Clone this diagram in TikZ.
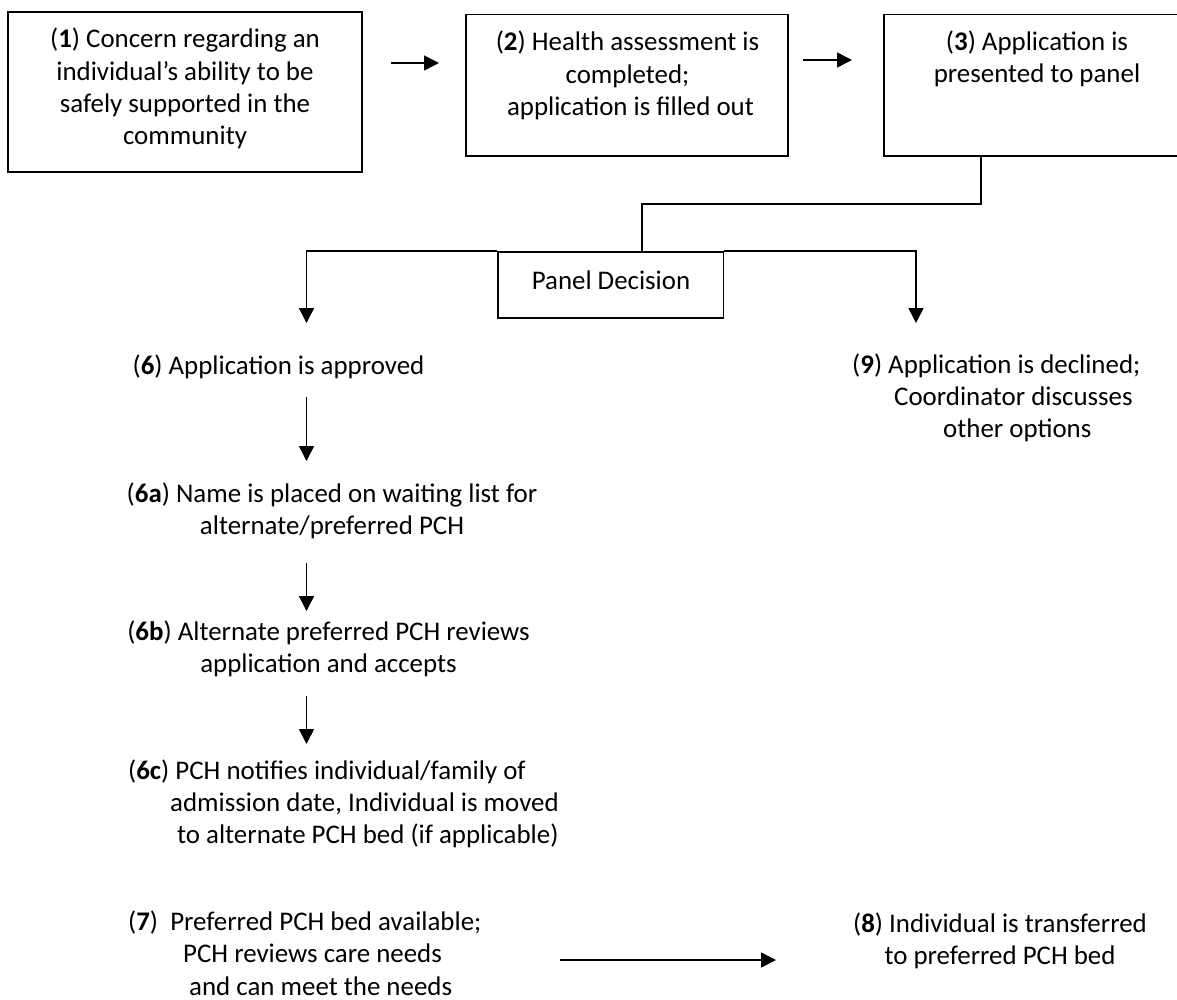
\documentclass[tikz,border=0pt]{standalone}
\usepackage{fontspec}
\setmainfont{Carlito}
\usetikzlibrary{arrows.meta}
\begin{document}
\begin{tikzpicture}[x=1pt,y=-1pt,
  boxshape/.style={draw, line width=1.6pt, inner sep=0pt, rectangle},
  txt/.style={inner sep=0pt, align=center, font=\fontsize{26.9}{32.3}\selectfont},
  txtl/.style={inner sep=0pt, align=left, font=\fontsize{26.9}{32.3}\selectfont},
  conn/.style={line width=1.6pt},
  arr/.style={line width=1.6pt, -{Triangle[length=15pt,width=15pt]}}]
\useasboundingbox (0,0) rectangle (1177,999);
\clip (0,0) rectangle (1177,999);
% boxes
\node[boxshape, minimum width=354pt, minimum height=160pt] (b1) at (185,92) {};
\node[boxshape, minimum width=322pt, minimum height=141.5pt] (b2) at (627,85.25) {};
\node[boxshape, minimum width=306pt, minimum height=141.5pt] (b3) at (1037,85.25) {};
\node[boxshape, minimum width=225.5pt, minimum height=66pt] (pd) at (610.75,285) {};
% box texts
\node[txt] (t1) at (185,88.5) {(\textbf{1}) Concern regarding an\\individual’s ability to be\\safely supported in the\\community};
\node[txt] (t2) at (627.5,75.5) {(\textbf{2}) Health assessment is\\completed;\\\hspace*{6pt}application is filled out};
\node[txt] (t3) at (1037,59) {(\textbf{3}) Application is\\presented to panel};
\node[txt] (tp) at (611,280) {Panel Decision};
% free texts
\node[txt] (t6) at (278.5,367) {(\textbf{6}) Application is approved};
\node[txt] (t6a) at (332,511) {(\textbf{6a}) Name is placed on waiting list for\\alternate/preferred PCH};
\node[txt] (t6b) at (328.5,649) {(\textbf{6b}) Alternate preferred PCH reviews\\application and accepts};
\node[txtl, anchor=west] (t6c) at (128,804) {(\textbf{6c}) PCH notifies individual/family of\\\hspace*{42pt}admission date, Individual is moved\\\hspace*{49pt}to alternate PCH bed (if applicable)};
\node[txtl, anchor=west] (t7) at (128,953) {(\textbf{7})\ \ Preferred PCH bed available;\\\hspace*{55pt}PCH reviews care needs\\\hspace*{61pt}and can meet the needs};
\node[txt] (t8) at (1000,941) {(\textbf{8}) Individual is transferred\\to preferred PCH bed};
\node[txtl, anchor=west] (t9) at (852,398) {(\textbf{9}) Application is declined;\\\hspace*{42pt}Coordinator discusses\\\hspace*{91pt}other options};
% coordinates for free connector ends
\coordinate (a1s) at (391,63);
\coordinate (a1e) at (439,63);
\coordinate (a2s) at (803,60);
\coordinate (a2e) at (852,60);
\coordinate (c3) at (981,156);
\coordinate (mid) at (642,204);
\coordinate (tipL) at (306.5,323);
\coordinate (tipR) at (916,323);
\coordinate (d1s) at (306.5,397);
\coordinate (d1e) at (306.5,461);
\coordinate (d2s) at (306.5,563);
\coordinate (d2e) at (306.5,611);
\coordinate (d3s) at (306.5,696);
\coordinate (d3e) at (306.5,744);
\coordinate (h7s) at (559.5,960);
\coordinate (h7e) at (776,960);
% connectors
\draw[arr] (a1s) -- (a1e);
\draw[arr] (a2s) -- (a2e);
\draw[conn] (c3) -- (c3 |- mid) -- (mid) -- (mid |- pd.north);
\draw[arr] (pd.north west) -| (tipL);
\draw[arr] (pd.north east) -| (tipR);
\draw[arr] (d1s) -- (d1e);
\draw[arr] (d2s) -- (d2e);
\draw[arr] (d3s) -- (d3e);
\draw[arr] (h7s) -- (h7e);
\end{tikzpicture}
\end{document}
